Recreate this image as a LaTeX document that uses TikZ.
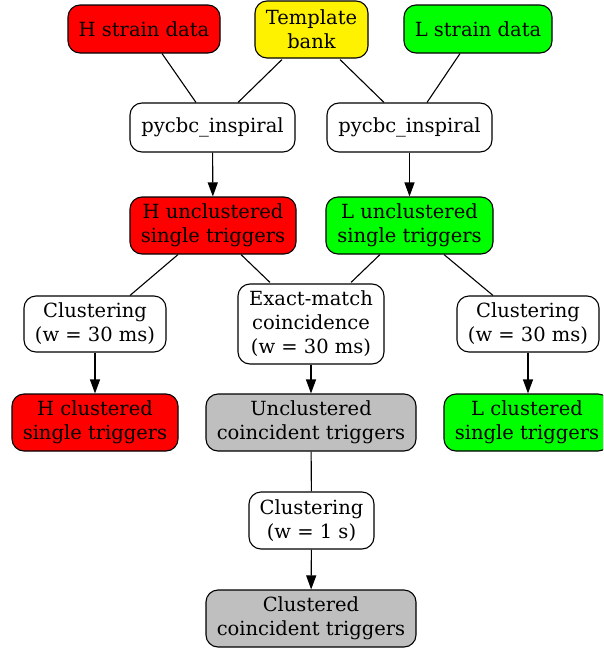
\documentclass[tikz,border=0pt]{standalone}
\usepackage{fontspec}
\setmainfont{DejaVu Serif}
\usetikzlibrary{arrows.meta}
\begin{document}
\begin{tikzpicture}[x=1pt,y=-1pt,
  box/.style={draw=black,line width=1.1pt,rounded corners=12pt,inner sep=0pt,align=center,font=\fontsize{19.5}{24}\selectfont},
  ln/.style={draw=black,line width=1.1pt},
  arr/.style={ln,-{Triangle[length=14pt,width=10pt]}}]
\useasboundingbox (0,0) rectangle (603,648);
\begin{scope}
\clip (0,0) rectangle (603,648);
\node[box,fill=red,minimum width=152pt,minimum height=48pt] (hs) at (144,29) {H strain data};
\node[box,fill=yellow,minimum width=113pt,minimum height=57pt] (tb) at (311.5,29.5) {Template\\bank};
\node[box,fill=green,minimum width=148pt,minimum height=48pt] (ls) at (478,29) {L strain data};
\node[box,fill=white,minimum width=165pt,minimum height=49pt] (pl) at (212.5,127.5) {pycbc\_inspiral};
\node[box,fill=white,minimum width=165pt,minimum height=49pt] (pr) at (409.5,127.5) {pycbc\_inspiral};
\node[box,fill=red,minimum width=166pt,minimum height=57pt] (hu) at (213,225.5) {H unclustered\\single triggers};
\node[box,fill=green,minimum width=167pt,minimum height=57pt] (lu) at (409.5,225.5) {L unclustered\\single triggers};
\node[box,fill=white,minimum width=142pt,minimum height=56pt] (cl) at (95,324) {Clustering\\(w = 30 ms)};
\node[box,fill=white,minimum width=146pt,minimum height=80pt] (em) at (311,324) {Exact-match\\coincidence\\(w = 30 ms)};
\node[box,fill=white,minimum width=142pt,minimum height=56pt] (cr) at (528,324) {Clustering\\(w = 30 ms)};
\node[box,fill=red,minimum width=166pt,minimum height=57pt] (hc) at (95,422.5) {H clustered\\single triggers};
\node[box,fill=black!25,minimum width=210pt,minimum height=57pt] (uc) at (311,422.5) {Unclustered\\coincident triggers};
\node[box,fill=green,minimum width=166pt,minimum height=57pt] (lc) at (527,422.5) {L clustered\\single triggers};
\node[box,fill=white,minimum width=125pt,minimum height=57pt] (c1) at (311.5,520.5) {Clustering\\(w = 1 s)};
\node[box,fill=black!25,minimum width=210pt,minimum height=57pt] (cc) at (311,618.5) {Clustered\\coincident triggers};
\end{scope}
\draw[ln] ([xshift=18pt]hs.south) -- ([xshift=-16.5pt]pl.north);
\draw[ln] ([xshift=-29.5pt,yshift=-1pt]tb.south) -- ([xshift=25.5pt]pl.north);
\draw[ln] ([xshift=28.5pt,yshift=-1pt]tb.south) -- ([xshift=-25.5pt]pr.north);
\draw[ln] ([xshift=-18pt]ls.south) -- ([xshift=17.5pt]pr.north);
\draw[arr] (pl) -- (hu);
\draw[arr] (pr) -- (lu);
\draw[ln] ([xshift=-35pt]hu.south) -- ([xshift=35pt]cl.north);
\draw[ln] ([xshift=28pt]hu.south) -- ([xshift=-41pt,yshift=1pt]em.north);
\draw[ln] ([xshift=-29.5pt]lu.south) -- ([xshift=40pt,yshift=1pt]em.north);
\draw[ln] ([xshift=34.5pt]lu.south) -- ([xshift=-35pt]cr.north);
\draw[arr] (cl) -- (hc);
\draw[arr] (em) -- (uc);
\draw[arr] (cr.south) -- (cr.south |- lc.north);
\draw[ln] (uc) -- (c1);
\draw[arr] (c1) -- (cc);
\end{tikzpicture}
\end{document}
